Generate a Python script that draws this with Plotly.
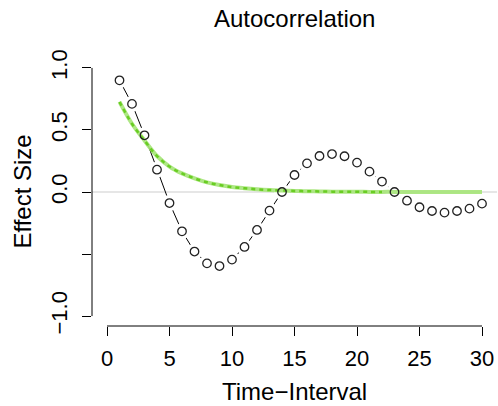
import plotly.graph_objects as go

lags = list(range(1, 31))
acf = [0.90, 0.71, 0.457, 0.18, -0.089, -0.317, -0.48, -0.575, -0.597, -0.545,
       -0.443, -0.306, -0.15, 0.0, 0.137, 0.231, 0.29, 0.306, 0.288, 0.237,
       0.164, 0.084, 0.0, -0.07, -0.123, -0.153, -0.166, -0.153, -0.134, -0.094]
fit = [0.726, 0.55, 0.415, 0.29, 0.205, 0.15, 0.11, 0.078, 0.056, 0.04,
       0.03, 0.022, 0.016, 0.012, 0.009, 0.006, 0.005, 0.003, 0.002, 0.002,
       0.001, 0.001, 0.001, 0.0, 0.0, 0.0, 0.0, 0.0, 0.0, 0.0]
n_dashed = 22
x_ticks = [0, 5, 10, 15, 20, 25, 30]
y_ticks = [-1.0, -0.5, 0.0, 0.5, 1.0]
y_ticktext = ["\u22121.0", "", "0.0", "0.5", "1.0"]

FONT = "Liberation Sans, Arial, Helvetica, sans-serif"

fig = go.Figure()
# connecting line (type "b" style)
fig.add_trace(go.Scatter(x=lags, y=acf, mode="lines",
                         line=dict(color="black", width=1.0), hoverinfo="skip"))
# gaps around points
fig.add_trace(go.Scatter(x=lags, y=acf, mode="markers",
                         marker=dict(size=16, color="white", line=dict(width=0)),
                         hoverinfo="skip"))
# green fitted curve: light band + dashed centre
fig.add_trace(go.Scatter(x=lags, y=fit, mode="lines", line_shape="spline",
                         line=dict(color="rgba(165,228,120,0.9)", width=4),
                         hoverinfo="skip"))
fig.add_trace(go.Scatter(x=lags[:n_dashed], y=fit[:n_dashed], mode="lines",
                         line_shape="spline",
                         line=dict(color="rgb(105,205,35)", width=2.5, dash="4px,4px"),
                         hoverinfo="skip"))
# open circles
fig.add_trace(go.Scatter(x=lags, y=acf, mode="markers",
                         marker=dict(size=8.5, color="rgba(0,0,0,0)",
                                     line=dict(color="#222222", width=1.3)),
                         hoverinfo="skip"))

shapes = [
    dict(type="line", xref="paper", yref="y", x0=0, x1=1, y0=0, y1=0,
         line=dict(color="#dedede", width=1.5), layer="below"),
    dict(type="line", xref="x", yref="paper", x0=x_ticks[0], x1=x_ticks[-1], y0=0, y1=0,
         line=dict(color="black", width=1)),
    dict(type="line", xref="paper", yref="y", x0=0, x1=0, y0=y_ticks[0], y1=y_ticks[-1],
         line=dict(color="black", width=1)),
]

annotations = [
    dict(text="Autocorrelation", xref="paper", yref="paper", x=0.5, y=1.1486,
         xanchor="center", yanchor="middle", showarrow=False,
         font=dict(family=FONT, size=24, color="black")),
    dict(text="Time\u2212Interval", xref="paper", yref="paper", x=0.5,
         y=(326 - 404) / 268, height=22, valign="middle",
         xanchor="center", yanchor="bottom", showarrow=False,
         font=dict(family=FONT, size=24, color="black")),
    dict(text="Effect Size", xref="paper", yref="paper", x=-0.1738, y=0.5,
         xanchor="center", yanchor="middle", showarrow=False, textangle=-90,
         font=dict(family=FONT, size=24, color="black")),
]

fig.update_layout(
    width=498, height=406,
    margin=dict(l=92, r=1, t=58, b=80),
    paper_bgcolor="white", plot_bgcolor="white",
    showlegend=False,
    shapes=shapes, annotations=annotations,
    font=dict(family=FONT, size=22, color="black"),
    xaxis=dict(range=[-1.2, 31.2], tickvals=x_ticks, ticks="outside", ticklen=9,
               tickcolor="black", tickwidth=1, showgrid=False, zeroline=False,
               showline=False, ticklabelstandoff=4,
               tickfont=dict(family=FONT, size=22, color="black")),
    yaxis=dict(range=[-1.08, 1.08], tickvals=y_ticks, ticktext=y_ticktext,
               ticks="outside", ticklen=9, tickcolor="black", tickwidth=1,
               tickangle=-90, showgrid=False, zeroline=False, showline=False,
               ticklabelstandoff=6,
               tickfont=dict(family=FONT, size=22, color="black")),
)

fig.write_html("out.html")
